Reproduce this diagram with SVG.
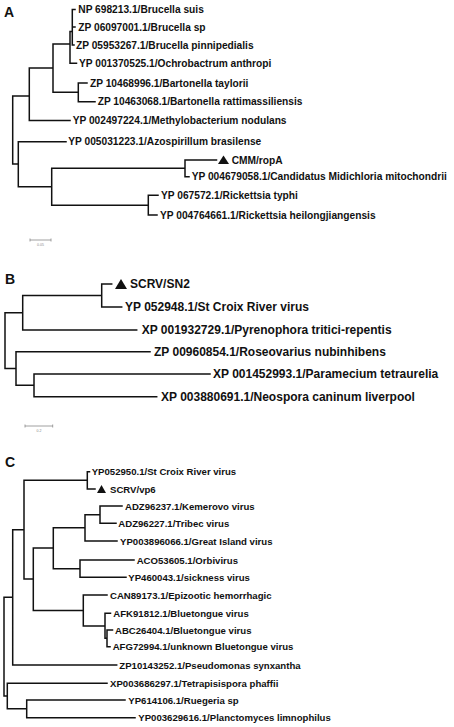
<svg xmlns="http://www.w3.org/2000/svg" width="454" height="727" viewBox="0 0 454 727">
<style>
.br{fill:none;stroke:#111;stroke-width:1.5;stroke-linecap:square}
.ta{font-family:"Liberation Sans",Arial,sans-serif;font-weight:bold;font-size:10.2px;fill:#111}
.tb{font-family:"Liberation Sans",Arial,sans-serif;font-weight:bold;font-size:12px;fill:#111}
.tc{font-family:"Liberation Sans",Arial,sans-serif;font-weight:bold;font-size:9.6px;fill:#111}
.pl{font-family:"Liberation Sans",Arial,sans-serif;font-weight:bold;font-size:14px;fill:#111}
.tri{fill:#111}
.sb{fill:none;stroke:#888;stroke-width:0.8}
.st{font-family:"Liberation Sans",Arial,sans-serif;font-size:3.5px;fill:#888}
</style>
<rect width="454" height="727" fill="#fff"/>
<g id="labels">
<text class="pl" x="4" y="17">A</text>
<text class="pl" x="5" y="284">B</text>
<text class="pl" x="5" y="467">C</text>
</g>
<g id="connectors">
<path class="br" d="M72.3 9.5V45M72.3 9.5H75M72.3 27H75M72.3 45H74M70 31.6H72.3M70 31.6V63.3H76.5M53 44H70M53 44V92.3M78.3 83V101.7M78.3 83H87M78.3 101.7H95M53 92.3H78.3M29.3 68H53M29.3 68V120.5H70M12.7 96H29.3M12.7 96V164H18.3M18.3 141.7V186.7M18.3 141.7H66M18.3 186.7H51.7M51.7 168.3V205.2M51.7 168.3H185M185 160V176.7M185 160H216.5M185 176.7H189M51.7 205.2H148.3M148.3 195.3V215M148.3 195.3H158M148.3 215H157"/>
<path class="br" d="M101.7 284V307M101.7 284H111.7M101.7 307H121.7M22.7 295.5H101.7M22.7 295.5V330H136.7M5 312.7H22.7M5 312.7V368.5H16M16 351.7V385.3M16 351.7H150M16 385.3H34M34 374V396.7M34 374H210M34 396.7H156.7"/>
<path class="br" d="M87.3 471.7V489M87.3 471.7H89.5M87.3 489H95M24 480.3H87.3M24 480.3V579H33.3M100 506V523.3M100 506H122M100 523.3H116M85 514.7H100M85 514.7V541H117M53.3 527.8H85M53.3 527.8V568.7M80 560V577.3M80 560H134M80 577.3H126M53.3 568.7H80M33.3 548H53.3M33.3 548V610.5H83.3M83.3 595V626M83.3 595H107M83.3 626H105M105 613.3V638.3M105 613.3H110.5M107 630V646.7M107 630H112.5M107 646.7H110M105 638.3H107M12.7 529.7H24M12.7 529.7V665H116.7M4 597.3H12.7M4 597.3V696H7.3M7.3 683.3V708.8M7.3 683.3H107M7.3 708.8H26.7M26.7 700V717.7M26.7 700H125M26.7 717.7H135"/>
</g>
<g id="scalebars">
<path class="sb" d="M30 240H51M30 238.5V241.5M51 238.5V241.5"/>
<text class="st" x="40.5" y="246" text-anchor="middle">0.05</text>
<path class="sb" d="M25 426H52.7M25 424.5V427.5M52.7 424.5V427.5"/>
<text class="st" x="39" y="432" text-anchor="middle">0.2</text>
</g>
<g id="treeA">
<g id="a1"><text class="ta" x="78.3" y="13.2">NP 698213.1/Brucella suis</text></g>
<g id="a2"><text class="ta" x="78.3" y="30.7">ZP 06097001.1/Brucella sp</text></g>
<g id="a3"><text class="ta" x="76" y="48.7">ZP 05953267.1/Brucella pinnipedialis</text></g>
<g id="a4"><text class="ta" x="79" y="67">YP 001370525.1/Ochrobactrum anthropi</text></g>
<g id="a5"><text class="ta" x="90" y="86.7">ZP 10468996.1/Bartonella taylorii</text></g>
<g id="a6"><text class="ta" x="97.7" y="105.4">ZP 10463068.1/Bartonella rattimassiliensis</text></g>
<g id="a7"><text class="ta" x="72.7" y="124.2">YP 002497224.1/Methylobacterium nodulans</text></g>
<g id="a8"><text class="ta" x="68.3" y="145.4">YP 005031223.1/Azospirillum brasilense</text></g>
<g id="a9"><path class="tri" d="M218 164L223.5 155.5L229 164Z"/><text class="ta" x="231.7" y="163.7">CMM/ropA</text></g>
<g id="a10"><text class="ta" x="191.7" y="180.4">YP 004679058.1/Candidatus Midichloria mitochondrii</text></g>
<g id="a11"><text class="ta" x="161" y="199">YP 067572.1/Rickettsia typhi</text></g>
<g id="a12"><text class="ta" x="160" y="218.7">YP 004764661.1/Rickettsia heilongjiangensis</text></g>
</g>
<g id="treeB">
<g id="b1"><path class="tri" d="M115 289L121 279L127 289Z"/><text class="tb" x="130" y="288.3">SCRV/SN2</text></g>
<g id="b2"><text class="tb" x="125" y="311.3">YP 052948.1/St Croix River virus</text></g>
<g id="b3"><text class="tb" x="141.7" y="334.3">XP 001932729.1/Pyrenophora tritici-repentis</text></g>
<g id="b4"><text class="tb" x="154" y="356">ZP 00960854.1/Roseovarius nubinhibens</text></g>
<g id="b5"><text class="tb" x="213" y="378.3">XP 001452993.1/Paramecium tetraurelia</text></g>
<g id="b6"><text class="tb" x="161" y="401">XP 003880691.1/Neospora caninum liverpool</text></g>
</g>
<g id="treeC">
<g id="c1"><text class="tc" x="91.7" y="475.2">YP052950.1/St Croix River virus</text></g>
<g id="c2"><path class="tri" d="M97 493L101.5 485L106 493Z"/><text class="tc" x="110" y="492.5">SCRV/vp6</text></g>
<g id="c3"><text class="tc" x="125" y="509.5">ADZ96237.1/Kemerovo virus</text></g>
<g id="c4"><text class="tc" x="118.3" y="526.8">ADZ96227.1/Tribec virus</text></g>
<g id="c5"><text class="tc" x="120" y="544.5">YP003896066.1/Great Island virus</text></g>
<g id="c6"><text class="tc" x="136.7" y="563.5">ACO53605.1/Orbivirus</text></g>
<g id="c7"><text class="tc" x="128.3" y="580.8">YP460043.1/sickness virus</text></g>
<g id="c8"><text class="tc" x="110" y="598.5">CAN89173.1/Epizootic hemorrhagic</text></g>
<g id="c9"><text class="tc" x="113.3" y="616.8">AFK91812.1/Bluetongue virus</text></g>
<g id="c10"><text class="tc" x="115" y="633.5">ABC26404.1/Bluetongue virus</text></g>
<g id="c11"><text class="tc" x="112.7" y="650.2">AFG72994.1/unknown Bluetongue virus</text></g>
<g id="c12"><text class="tc" x="119.3" y="668.5">ZP10143252.1/Pseudomonas synxantha</text></g>
<g id="c13"><text class="tc" x="110" y="686.8">XP003686297.1/Tetrapisispora phaffii</text></g>
<g id="c14"><text class="tc" x="128.3" y="703.5">YP614106.1/Ruegeria sp</text></g>
<g id="c15"><text class="tc" x="138.3" y="721.2">YP003629616.1/Planctomyces limnophilus</text></g>
</g>
</svg>
